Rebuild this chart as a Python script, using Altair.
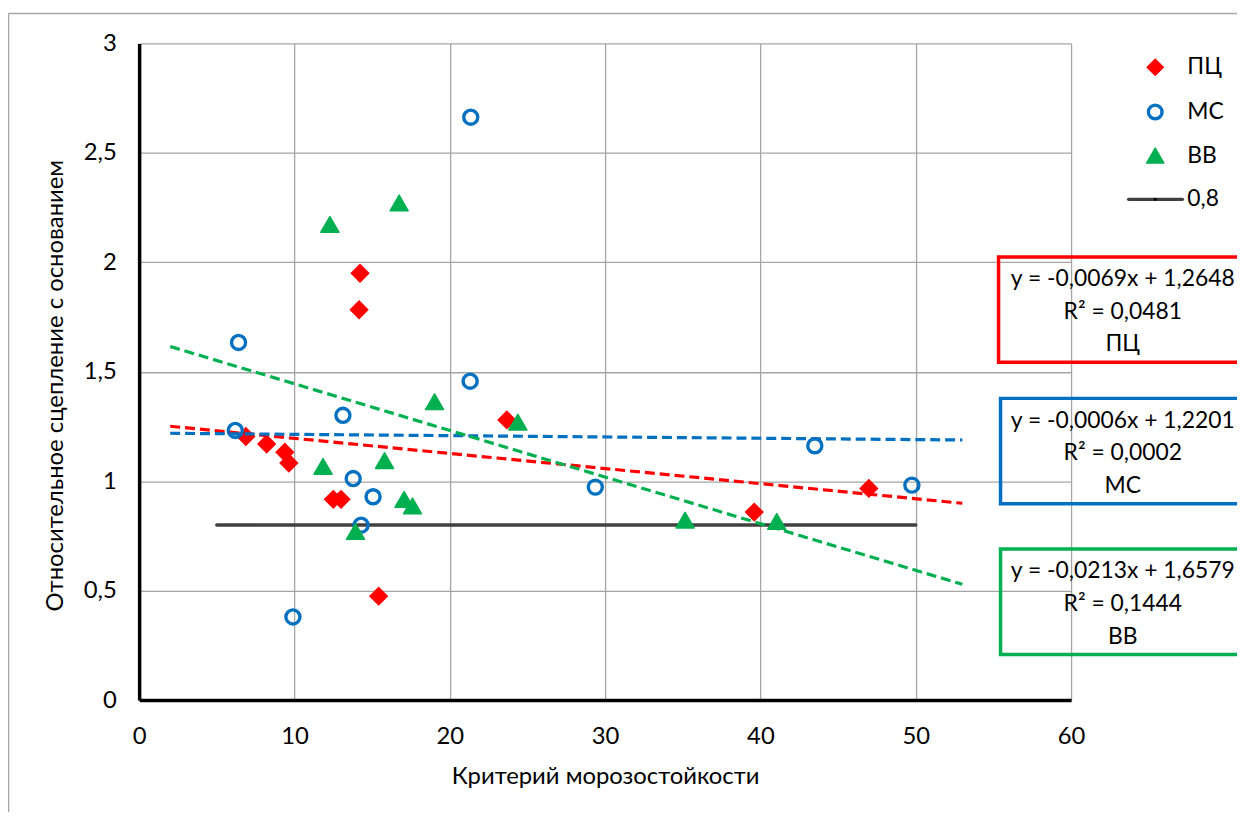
import altair as alt
import pandas as pd

FONT = "Lato, 'Open Sans', 'DejaVu Sans', sans-serif"
GRID = "#A5A5A5"

# ---------------- data ----------------
series_names = ["ПЦ", "МС", "ВВ"]
series_colors = ["#FF0000", "#0070C0", "#00B050"]

pc_x = [14.22, 14.16, 6.87, 8.21, 9.38, 9.64, 12.5, 13.0, 15.42, 23.67, 39.6, 46.98]
pc_y = [1.950, 1.783, 1.204, 1.170, 1.132, 1.083, 0.917, 0.917, 0.475, 1.280, 0.859, 0.967]

ms_x = [6.40, 6.19, 13.12, 13.78, 15.06, 14.29, 9.90, 21.35, 21.31, 29.37, 43.50, 49.75]
ms_y = [1.634, 1.232, 1.301, 1.012, 0.929, 0.799, 0.380, 2.663, 1.457, 0.973, 1.162, 0.982]

vv_x = [16.74, 12.28, 11.84, 15.80, 17.06, 17.60, 13.93, 19.02, 24.38, 35.15, 41.05]
vv_y = [2.271, 2.173, 1.068, 1.094, 0.917, 0.887, 0.770, 1.363, 1.270, 0.822, 0.816]

slopes = [-0.0069, -0.0006, -0.0213]
intercepts = [1.2648, 1.2201, 1.6579]
r2_labels = ["0,0481", "0,0002", "0,1444"]
trend_x = [2, 53]

threshold_label = "0,8"
threshold_y = 0.8
threshold_x = [5, 50]

x_ticks = [0, 10, 20, 30, 40, 50, 60]
y_ticks = [0, 0.5, 1, 1.5, 2, 2.5, 3]

x_title = "Критерий морозостойкости"
y_title = "Относительное сцепление с основанием"

# ---------------- tables ----------------
pc_df = pd.DataFrame({"x": pc_x, "y": pc_y})
ms_df = pd.DataFrame({"x": ms_x, "y": ms_y})
vv_df = pd.DataFrame({"x": vv_x, "y": vv_y})

trend_rows = []
for name, s, b in zip(series_names, slopes, intercepts):
    for xv in trend_x:
        trend_rows.append({"series": name, "x": xv, "y": s * xv + b})
trend_df = pd.DataFrame(trend_rows)

thr_df = pd.DataFrame({"x": [threshold_x[0]], "x2": [threshold_x[1]], "y": [threshold_y]})

def eq_text(s, b):
    return f"y = {s:.4f}x + {b:.4f}".replace(".", ",")

one = pd.DataFrame({"a": [0]})

xs = alt.Scale(domain=[0, 60], nice=False, zero=False)
ys = alt.Scale(domain=[0, 3], nice=False, zero=False)

AX_FS = 24

x_axis = alt.Axis(
    values=x_ticks, grid=True, gridColor=GRID, gridWidth=1.3,
    domainColor="black", domainWidth=3.5, ticks=False, tickSize=0,
    labelFont=FONT, labelFontSize=AX_FS, labelColor="black", labelPadding=25,
    labelFlush=False, labelOverlap=False,
    title=x_title, titleFont=FONT, titleFontSize=AX_FS, titleFontWeight="normal",
    titleColor="black", titleBaseline="alphabetic", titleY=84,
)
y_axis = alt.Axis(
    values=y_ticks, grid=True, gridColor=GRID, gridWidth=1.3,
    domainColor="black", domainWidth=3.5, ticks=False, tickSize=0,
    labelFont=FONT, labelFontSize=AX_FS, labelColor="black", labelPadding=23,
    labelFlush=False, labelOverlap=False,
    labelExpr="replace(toString(datum.value), '.', ',')",
    title=y_title, titleFont=FONT, titleFontSize=AX_FS, titleFontWeight="normal",
    titleColor="black", titleBaseline="alphabetic", titleAlign="center",
    titleX=-77, titleY=344,
)

X = alt.X("x:Q", scale=xs, axis=x_axis)
Y = alt.Y("y:Q", scale=ys, axis=y_axis)

# ---------------- layers ----------------
thr_layer = alt.Chart(thr_df).mark_rule(color="#404040", strokeWidth=3.5, strokeCap="round").encode(
    x=X, x2="x2:Q", y=Y,
)

pc_layer = alt.Chart(pc_df).mark_point(
    shape="diamond", filled=True, color=series_colors[0], size=380, opacity=1
).encode(x=X, y=Y)

ms_layer = alt.Chart(ms_df).mark_point(
    shape="circle", filled=False, color=series_colors[1], size=200, strokeWidth=3.4, opacity=1
).encode(x=X, y=Y)

vv_layer = alt.Chart(vv_df).mark_point(
    shape="triangle-up", filled=True, color=series_colors[2], size=330, opacity=1,
    stroke=series_colors[2], strokeWidth=1.5, strokeJoin="round"
).encode(x=X, y=Y)

trend_layer = alt.Chart(trend_df).mark_line(strokeWidth=3.2, strokeDash=[10, 5]).encode(
    x=X, y=Y,
    color=alt.Color("series:N", scale=alt.Scale(domain=series_names, range=series_colors), legend=None),
    detail="series:N",
)

# ---------------- legend (top right) ----------------
LEG_MX, LEG_TX = 1022.7, 1055
leg_rows = [24, 69, 113, 157]
legend_layers = [
    alt.Chart(one).mark_point(shape="diamond", filled=True, color=series_colors[0], size=330, opacity=1)
    .encode(x=alt.value(LEG_MX), y=alt.value(leg_rows[0])),
    alt.Chart(one).mark_point(shape="circle", filled=False, color=series_colors[1], size=190, strokeWidth=3.4, opacity=1)
    .encode(x=alt.value(LEG_MX), y=alt.value(leg_rows[1])),
    alt.Chart(one).mark_point(shape="triangle-up", filled=True, color=series_colors[2], size=300, opacity=1,
                              stroke=series_colors[2], strokeWidth=1.5, strokeJoin="round")
    .encode(x=alt.value(LEG_MX), y=alt.value(leg_rows[2])),
    alt.Chart(one).mark_rule(color="#404040", strokeWidth=3.5, strokeCap="round")
    .encode(x=alt.value(996), x2=alt.value(1050), y=alt.value(leg_rows[3])),
    alt.Chart(one).mark_point(shape="circle", filled=True, color="black", size=10, opacity=1)
    .encode(x=alt.value(LEG_MX), y=alt.value(leg_rows[3])),
]
for label, yy in zip(series_names + [threshold_label], leg_rows):
    legend_layers.append(
        alt.Chart(one).mark_text(text=label, align="left", baseline="middle", font=FONT,
                                 fontSize=23, color="black")
        .encode(x=alt.value(LEG_TX), y=alt.value(yy))
    )

# ---------------- equation boxes ----------------
box_tops = [215, 357.3, 509]
box_lefts = [865, 867, 867]
box_h = 106
ann_layers = []
for name, col, s, b, r2, top, left in zip(series_names, series_colors, slopes, intercepts, r2_labels, box_tops, box_lefts):
    ann_layers.append(
        alt.Chart(one).mark_rect(fillOpacity=0, stroke=col, strokeWidth=3.5)
        .encode(x=alt.value(left), x2=alt.value(1120), y=alt.value(top), y2=alt.value(top + box_h))
    )
    ann_layers.append(
        alt.Chart(one).mark_text(text=[eq_text(s, b), f"R² = {r2}", name], align="center",
                                 baseline="alphabetic", lineHeight=32.8, font=FONT, fontSize=23,
                                 color="black")
        .encode(x=alt.value(990), y=alt.value(top + 29.5))
    )

# ---------------- outer chart border ----------------
border_layers = [
    alt.Chart(one).mark_rule(color="#A6A6A6", strokeWidth=1.5)
    .encode(x=alt.value(-131.5), x2=alt.value(1120), y=alt.value(-30)),
    alt.Chart(one).mark_rule(color="#A6A6A6", strokeWidth=1.5)
    .encode(x=alt.value(-131.5), y=alt.value(-30), y2=alt.value(800)),
]

chart = alt.layer(
    thr_layer, pc_layer, ms_layer, vv_layer, trend_layer,
    *legend_layers, *ann_layers, *border_layers,
).properties(
    width=938, height=661,
    autosize=alt.AutoSizeParams(type="none"),
    padding={"left": 132, "top": 33, "right": 167, "bottom": 110},
    background="white",
).configure_view(stroke=None)

chart.save("out.html", embed_options={"renderer": "svg", "actions": False})
